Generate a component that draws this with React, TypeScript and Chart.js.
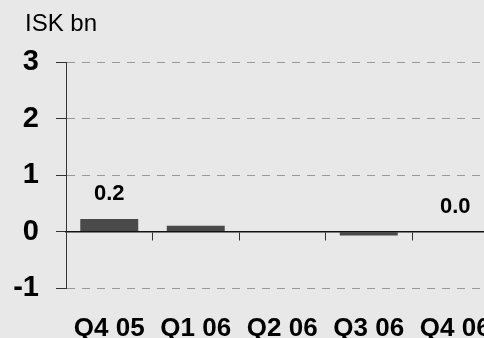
import React, { useEffect, useRef } from "react";
import { Chart, registerables } from "chart.js";

Chart.register(...registerables);

const categories = ["Q4 05", "Q1 06", "Q2 06", "Q3 06", "Q4 06"];
const values = [0.22, 0.1, 0, -0.07, 0.0];
const showLabel = [true, false, false, false, true];
const unitLabel = "ISK bn";
const yMin = -1;
const yMax = 3;

const FONT = "'Liberation Sans', Arial, sans-serif";

const valueLabelPlugin = {
  id: "valueLabels",
  afterDatasetsDraw(chart: any) {
    const ctx = chart.ctx;
    const meta = chart.getDatasetMeta(0);
    ctx.save();
    ctx.font = `bold 22px ${FONT}`;
    ctx.fillStyle = "#000";
    ctx.textAlign = "center";
    ctx.textBaseline = "middle";
    meta.data.forEach((bar: any, i: number) => {
      if (!showLabel[i]) return;
      const top = Math.min(bar.y, bar.base);
      ctx.fillText(values[i].toFixed(1), bar.x, top - 25);
    });
    ctx.restore();
  },
};

const unitPlugin = {
  id: "unitLabel",
  afterDraw(chart: any) {
    const ctx = chart.ctx;
    ctx.save();
    ctx.font = `24px ${FONT}`;
    ctx.fillStyle = "#000";
    ctx.textAlign = "left";
    ctx.textBaseline = "alphabetic";
    ctx.fillText(unitLabel, 25, 31);
    ctx.restore();
  },
};

export default function App() {
  const ref = useRef<HTMLCanvasElement>(null);

  useEffect(() => {
    if (!ref.current) return;
    const chart = new Chart(ref.current, {
      type: "bar",
      data: {
        labels: categories,
        datasets: [
          {
            data: values,
            backgroundColor: "#4a4a4a",
            borderWidth: 0,
            barPercentage: 0.67,
            categoryPercentage: 1,
          },
        ],
      },
      plugins: [valueLabelPlugin, unitPlugin],
      options: {
        responsive: false,
        animation: false,
        devicePixelRatio: 1,
        layout: { padding: { top: 62, right: 21.5, left: 0, bottom: 0 } },
        plugins: {
          legend: { display: false },
          tooltip: { enabled: false },
          title: { display: false },
        },
        scales: {
          x: {
            type: "category",
            position: { y: 0 } as any,
            offset: true,
            grid: {
              display: true,
              offset: true,
              drawOnChartArea: false,
              drawTicks: true,
              tickLength: 8,
              tickColor: "#333",
              tickWidth: 1,
            },
            border: { display: true, color: "#111", width: 1.5 },
            ticks: { display: false },
          },
          x2: {
            type: "category",
            axis: "x",
            position: "bottom",
            offset: true,
            labels: categories,
            grid: { display: false, drawTicks: false },
            border: { display: false },
            ticks: {
              color: "#000",
              font: { family: FONT, size: 26, weight: "bold" },
              padding: 25,
              maxRotation: 0,
              autoSkip: false,
            },
            afterFit(scale: any) {
              scale.height = 50;
            },
          },
          y: {
            min: yMin,
            max: yMax,
            ticks: {
              stepSize: 1,
              color: "#000",
              font: { family: FONT, size: 29, weight: "bold" },
              padding: 17,
            },
            grid: {
              color: (c: any) => (c.tick && c.tick.value === 0 ? "transparent" : "#999"),
              lineWidth: 1,
              tickLength: 10,
              tickColor: "#333",
              tickBorderDash: [],
            },
            border: { display: true, color: "#333", width: 1, dash: [8, 7] },
            afterFit(scale: any) {
              scale.width = 66;
            },
          },
        },
      },
    });
    return () => chart.destroy();
  }, []);

  return (
    <div
      style={{
        position: "fixed",
        left: 0,
        top: 0,
        width: 484,
        height: 338,
        overflow: "hidden",
        background: "#e8e8e8",
      }}
    >
      <canvas ref={ref} width={520} height={338} style={{ display: "block" }} />
    </div>
  );
}
